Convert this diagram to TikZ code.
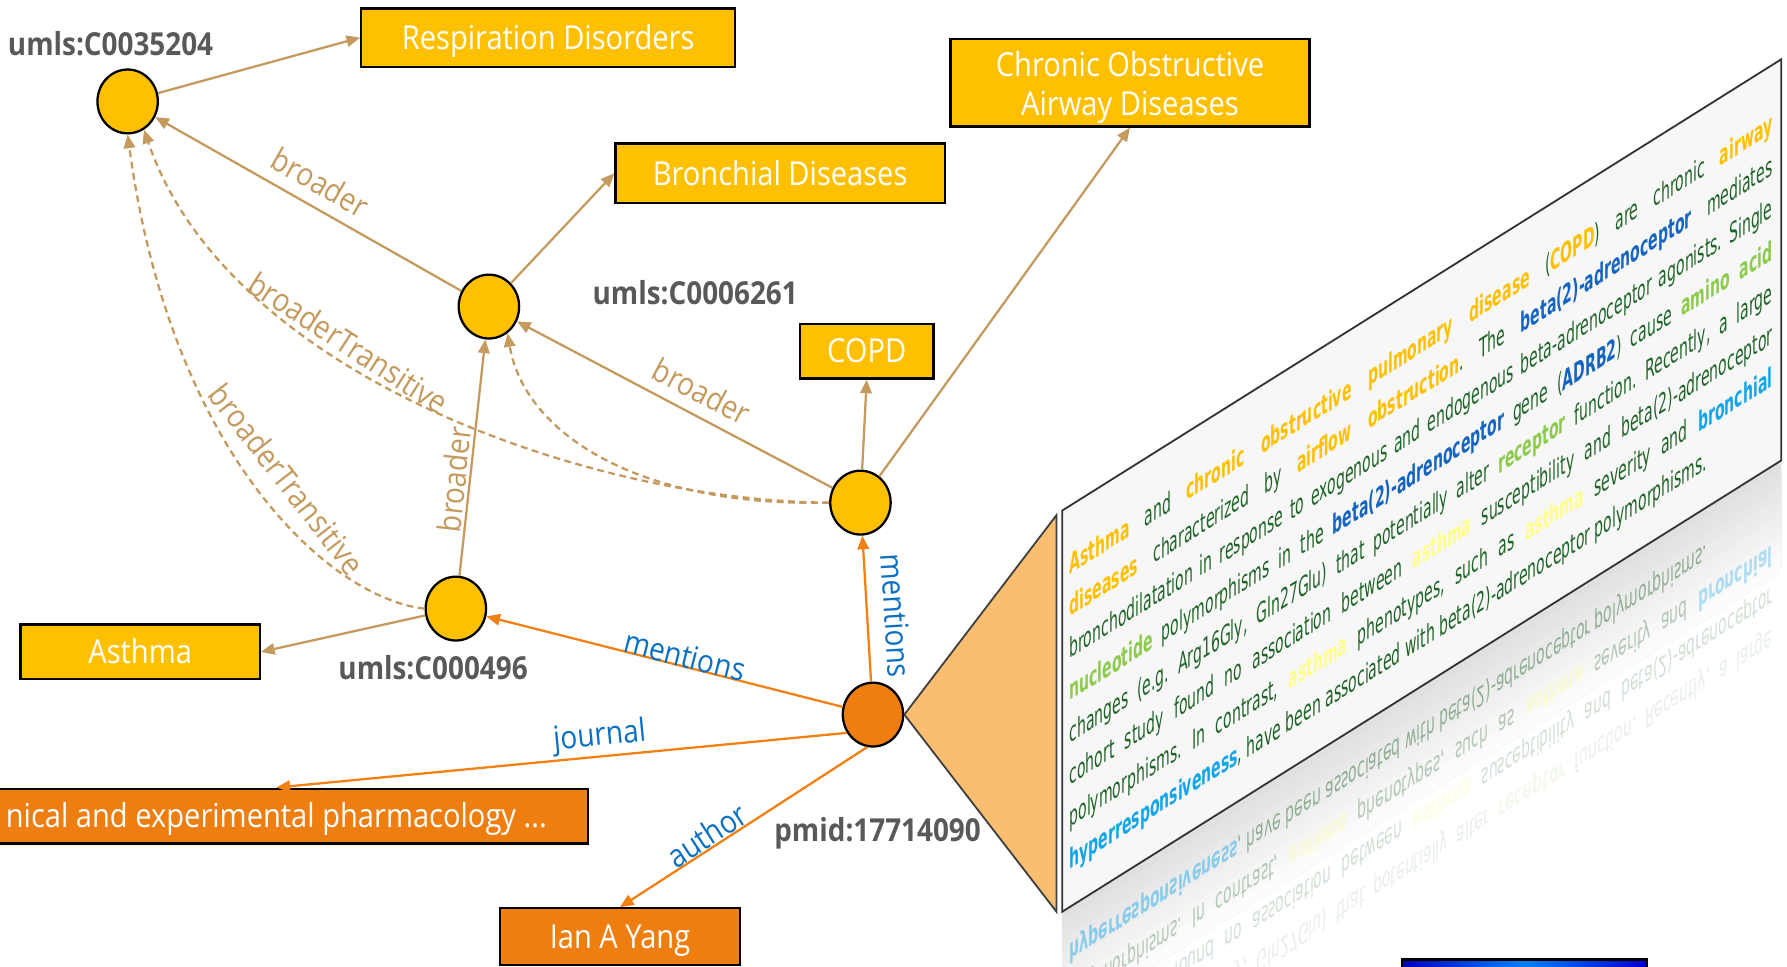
\documentclass[tikz,border=0pt]{standalone}
\usepackage{fontspec}
\setmainfont{Open Sans}[FakeStretch=0.88]
\newfontfamily\panelfont{DejaVu Sans}
\usepackage{graphicx}
\usetikzlibrary{arrows.meta, shapes.geometric}

\definecolor{nodeyellow}{HTML}{FFC000}
\definecolor{nodeorange}{HTML}{EE7E10}
\definecolor{edgetan}{HTML}{C49A5E}
\definecolor{edgeorange}{HTML}{F38012}
\definecolor{labelblue}{HTML}{0B70C4}
\definecolor{idgray}{HTML}{595959}
\definecolor{wedge}{HTML}{FBBE70}
\definecolor{txgreen}{HTML}{1F6427}
\definecolor{txyellow}{HTML}{FFC000}
\definecolor{txblue}{HTML}{1565C0}
\definecolor{txlime}{HTML}{8CCB4E}
\definecolor{txpale}{HTML}{FFFF8C}
\definecolor{txcyan}{HTML}{12A5EA}

% abstract text: one justified line per box
\newlength\ptw \setlength\ptw{600pt}
\newcommand\Yw[1]{{\color{txyellow}\bfseries #1}}
\newcommand\Bw[1]{{\color{txblue}\bfseries #1}}
\newcommand\Lw[1]{{\color{txlime}\bfseries #1}}
\newcommand\Pw[1]{{\color{txpale}\bfseries #1}}
\newcommand\Cw[1]{{\color{txcyan}\bfseries #1}}
\newcommand\pjust[1]{\scalebox{0.514}[1]{\hbox to \ptw{\color{txgreen}#1}}}
\newcommand\plast[1]{\scalebox{0.514}[1]{\hbox to \ptw{\color{txgreen}#1\hfil}}}
\newcommand\lnA{\pjust{\Yw{Asthma} and \Yw{chronic obstructive pulmonary disease} (\Yw{COPD}) are chronic \Yw{airway}}}
\newcommand\lnB{\pjust{\Yw{diseases} characterized by \Yw{airflow obstruction}. The \Bw{beta(2)-adrenoceptor} mediates}}
\newcommand\lnC{\pjust{bronchodilatation in response to exogenous and endogenous beta-adrenoceptor agonists. Single}}
\newcommand\lnD{\pjust{\Lw{nucleotide} polymorphisms in the \Bw{beta(2)-adrenoceptor} gene (\Bw{ADRB2}) cause \Lw{amino acid}}}
\newcommand\lnE{\pjust{changes (e.g. Arg16Gly, Gln27Glu) that potentially alter \Lw{receptor} function. Recently, a large}}
\newcommand\lnF{\pjust{cohort study found no association between \Pw{asthma} susceptibility and beta(2)-adrenoceptor}}
\newcommand\lnG{\pjust{polymorphisms. In contrast, \Pw{asthma} phenotypes, such as \Pw{asthma} severity and \Cw{bronchial}}}
\newcommand\lnH{\plast{\Cw{hyperresponsiveness}, have been associated with beta(2)-adrenoceptor polymorphisms.}}

\begin{document}
\begin{tikzpicture}[x=0.5pt, y=-0.5pt,
  ynode/.style={ellipse, draw=black, line width=1pt, fill=nodeyellow,
    minimum width=26.5pt, minimum height=28pt, inner sep=0pt},
  onode/.style={ynode, fill=nodeorange},
  ybox/.style={rectangle, draw=black, line width=1pt, fill=nodeyellow, text=white,
    font=\fontsize{14.5pt}{17pt}\selectfont, inner sep=0pt,
    text height=10.4pt, text depth=0pt},
  obox/.style={ybox, fill=nodeorange},
  boxtext/.style={text=white, font=\fontsize{14.5pt}{17pt}\selectfont, inner sep=0pt, align=center},
  idlabel/.style={font=\bfseries\fontsize{13.9pt}{16pt}\selectfont, text=idgray, inner sep=0pt},
  tanlink/.style={draw=edgetan, line width=1pt, -{Triangle[length=6pt,width=5pt]}},
  tandash/.style={tanlink, dash pattern=on 3pt off 2pt},
  orlink/.style={draw=edgeorange, line width=1pt, -{Triangle[length=6pt,width=5pt]}},
  tanlabel/.style={font=\fontsize{14pt}{16pt}\selectfont, text=edgetan, sloped, inner sep=2pt},
  bluelabel/.style={font=\fontsize{14pt}{16pt}\selectfont, text=labelblue, sloped, inner sep=2pt},
  ptext/.style={transform shape, anchor=base west, inner sep=0pt,
    font=\panelfont\fontsize{12pt}{14pt}\selectfont\frenchspacing},
]
\useasboundingbox (0,0) rectangle (1568,848);
\clip (0,0) rectangle (1568,848);

% ---- concept nodes
\node[ynode] (c35) at (112,89) {};
\node[ynode] (c62) at (429,269) {};
\node[ynode] (ccopd) at (755,441) {};
\node[ynode] (c496) at (400,534) {};
\node[onode] (pmid) at (766,627) {};

\node[idlabel] (l35) at (97,38) {umls:C0035204};
\node[idlabel] (l62) at (610,257) {umls:C0006261};
\node[idlabel] (l496) at (380,586) {umls:C000496};
\node[idlabel] (lpm) at (770,731) {pmid:17714090};

% ---- label boxes
\node[ybox, minimum width=164pt, minimum height=25.5pt] (resp) at (481,33) {Respiration Disorders};
\node[ybox, minimum width=144.5pt, minimum height=26pt] (bron) at (684.5,152) {Bronchial Diseases};
\node[ybox, minimum width=157.5pt, minimum height=38.5pt] (coad) at (991.5,72.5) {};
\node[boxtext] (coadtext) at (991.5,77) {Chronic Obstructive\\Airway Diseases};
\node[ybox, minimum width=58.5pt, minimum height=24pt] (copd) at (760.5,308) {COPD};
\node[ybox, minimum width=105pt, minimum height=24pt] (asth) at (123,572) {Asthma};
\node[obox, minimum width=273.5pt, minimum height=24pt, anchor=east] (jour) at (517,716) {nical and experimental pharmacology ...};
\node[obox, minimum width=105pt, minimum height=25pt] (ian) at (544,822) {Ian A Yang};

% ---- hierarchy links
\draw[tanlink] (c35) -- (resp.west);
\draw[tanlink] (c62) -- node[tanlabel, above=3pt] {broader} (c35);
\draw[tanlink] (c62) -- (bron.west);
\draw[tanlink] (ccopd) -- node[tanlabel, above=3pt, pos=0.45] {broader} (c62);
\draw[tanlink] (c496) -- node[tanlabel, above=-1pt, pos=0.4] {broader} (c62);
\draw[tanlink] (ccopd) -- (copd.south);
\draw[tanlink] (ccopd) -- (coad.south);
\draw[tanlink] (c496) -- (asth.east);
\draw[tandash] (ccopd.west) .. controls (520,440) and (200,330) .. node[tanlabel, above, pos=0.62] {broaderTransitive} (c35.-60);
\draw[tandash] (ccopd.west) .. controls (560,445) and (460,380) .. (c62.-55);
\draw[tandash] (c496.west) .. controls (290,525) and (150,400) .. node[tanlabel, above=5pt, pos=0.48] {broaderTransitive} (c35.-90);

% ---- article links
\draw[orlink] (pmid) -- node[bluelabel, above=-3pt, pos=0.45] {mentions} (c496);
\draw[orlink] (pmid) -- node[bluelabel, above=5pt, pos=0.44] {mentions} (ccopd);
\draw[orlink] (pmid.215) -- node[bluelabel, above=-1pt, pos=0.43] {journal} (jour.north);
\draw[orlink] (pmid.-100) -- node[bluelabel, above=-2pt, pos=0.62] {author} (ian.north);

% ---- wedge towards the abstract
\coordinate (wtop) at (927,452);
\coordinate (wbot) at (927,800);
\filldraw[fill=wedge, draw=black!75, line width=0.8pt, line join=miter] (pmid.east) -- (wtop) -- (wbot) -- cycle;

% ---- abstract panel, sheared
\begin{scope}[shift={(932,448)}, cm={1,0.6276,0,1,(0,0)}]
  \fill[white!97!black] (0,0) rectangle (631,352);
  \foreach \i in {0,...,11}{
    \pgfmathtruncatemacro\g{12-\i}
    \fill[black!\g!white] (0,{352+\i*8}) rectangle (631,450);
  }
  \begin{scope}[shift={(0,704)}, yscale=-1]
    \node[ptext, opacity=0.45] (r8) at (6,319) {\lnH};
    \node[ptext, opacity=0.32] (r7) at (6,282) {\lnG};
    \node[ptext, opacity=0.2] (r6) at (6,245) {\lnF};
    \node[ptext, opacity=0.1] (r5) at (6,208) {\lnE};
  \end{scope}
  \node[ptext] (t1) at (6,60) {\lnA};
  \node[ptext] (t2) at (6,97) {\lnB};
  \node[ptext] (t3) at (6,134) {\lnC};
  \node[ptext] (t4) at (6,171) {\lnD};
  \node[ptext] (t5) at (6,208) {\lnE};
  \node[ptext] (t6) at (6,245) {\lnF};
  \node[ptext] (t7) at (6,282) {\lnG};
  \node[ptext] (t8) at (6,319) {\lnH};
  \draw[line width=0.8pt, black!80] (0,0) -- (631,0) -- (631,352) -- (0,352) -- cycle;
\end{scope}

% ---- picture thumbnail at the lower edge
\draw[black, line width=1pt, left color=blue!75!black, right color=blue!80!black, middle color=cyan!50!blue]
  (1230,842) rectangle (1445,870);
\end{tikzpicture}
\end{document}
